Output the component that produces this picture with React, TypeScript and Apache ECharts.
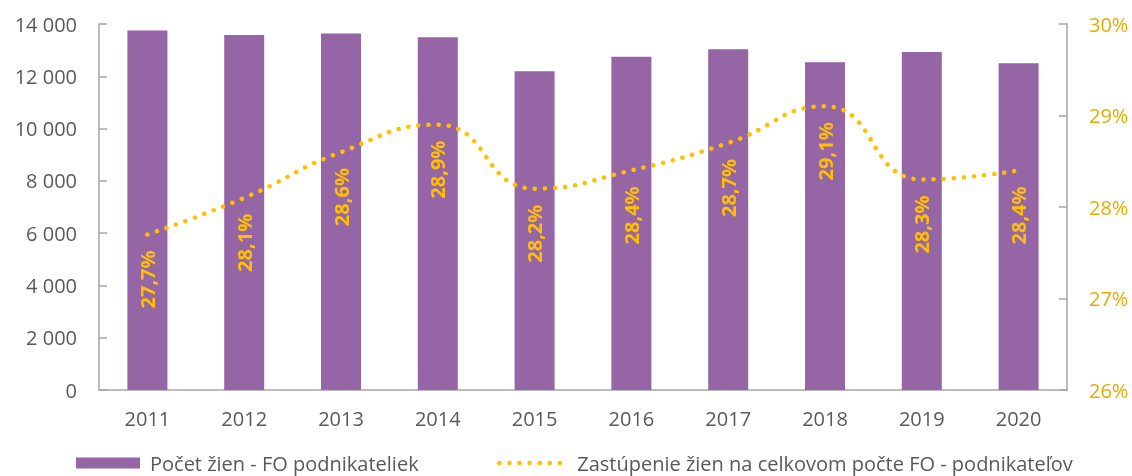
import React, { useEffect, useRef } from "react";
import * as echarts from "echarts";

const years = ["2011", "2012", "2013", "2014", "2015", "2016", "2017", "2018", "2019", "2020"];
const womenCount = [13750, 13580, 13640, 13490, 12190, 12750, 13030, 12540, 12930, 12500];
const womenShare = [27.7, 28.1, 28.6, 28.9, 28.2, 28.4, 28.7, 29.1, 28.3, 28.4];
const barName = "Počet žien - FO podnikateliek";
const lineName = "Zastúpenie žien na celkovom počte FO - podnikateľov";

const FONT = "Open Sans";
const GRAY = "#595959";
const AXIS = "#A6A6A6";
const PURPLE = "#9665A6";
const GOLD = "#FFC000";
const GOLD_TEXT = "#E6AC00";

export default function App() {
  const ref = useRef<HTMLDivElement>(null);
  useEffect(() => {
    const chart = echarts.init(ref.current!, null, { renderer: "svg" });
    const legendText = { color: GRAY, fontSize: 20, lineHeight: 20, fontFamily: FONT, padding: [0, 0, 0, 5] };
    chart.setOption({
      animation: false,
      textStyle: { fontFamily: FONT },
      grid: { left: 99, right: 65, top: 24, bottom: 86 },
      legend: [
        {
          data: [{ name: barName, icon: "rect" }],
          left: 76,
          top: 453,
          padding: 0,
          itemWidth: 64,
          itemHeight: 11,
          textStyle: legendText,
        },
        {
          data: [{ name: lineName, itemStyle: { opacity: 0 } }],
          left: 497,
          top: 453,
          padding: 0,
          itemWidth: 68,
          itemHeight: 11,
          lineStyle: { color: GOLD, width: 4.5, type: [0.1, 10], cap: "round" },
          textStyle: legendText,
        },
      ],
      xAxis: {
        type: "category",
        data: years,
        axisLine: { lineStyle: { color: AXIS, width: 1.5 } },
        axisTick: { show: false },
        axisLabel: { color: GRAY, fontSize: 20, fontFamily: FONT, margin: 18 },
      },
      yAxis: [
        {
          type: "value",
          min: 0,
          max: 14000,
          interval: 2000,
          axisLine: { show: true, lineStyle: { color: AXIS, width: 1.5 } },
          axisTick: { show: true, inside: true, length: 8, lineStyle: { color: AXIS, width: 1.5 } },
          splitLine: { show: false },
          axisLabel: {
            color: GRAY,
            fontSize: 20,
            fontFamily: FONT,
            margin: 22,
            formatter: (v: number) => (v >= 1000 ? `${Math.floor(v / 1000)} ${String(v % 1000).padStart(3, "0")}` : String(v)),
          },
        },
        {
          type: "value",
          min: 26,
          max: 30,
          interval: 1,
          position: "right",
          axisLine: { show: true, lineStyle: { color: AXIS, width: 1.5 } },
          axisTick: { show: true, inside: true, length: 8, lineStyle: { color: AXIS, width: 1.5 } },
          splitLine: { show: false },
          axisLabel: { color: GOLD_TEXT, fontSize: 20, fontFamily: FONT, margin: 22, formatter: "{value}%" },
        },
      ],
      series: [
        {
          name: barName,
          type: "bar",
          data: womenCount,
          barWidth: 40,
          itemStyle: { color: PURPLE },
        },
        {
          name: lineName,
          type: "line",
          yAxisIndex: 1,
          data: womenShare,
          smooth: 0.5,
          symbol: "circle",
          symbolSize: 0,
          showSymbol: true,
          lineStyle: { color: GOLD, width: 4.5, type: [0.1, 10], cap: "round" },
          itemStyle: { color: GOLD },
          label: {
            show: true,
            position: "bottom",
            distance: 16,
            rotate: 90,
            align: "right",
            verticalAlign: "middle",
            color: GOLD,
            fontWeight: "bold",
            fontSize: 20,
            fontFamily: FONT,
            formatter: (p: any) => `${p.value.toFixed(1).replace(".", ",")}%`,
          },
        },
      ],
    });
    return () => chart.dispose();
  }, []);
  return <div ref={ref} style={{ position: "fixed", left: 0, top: 0, width: 1132, height: 476 }} />;
}
